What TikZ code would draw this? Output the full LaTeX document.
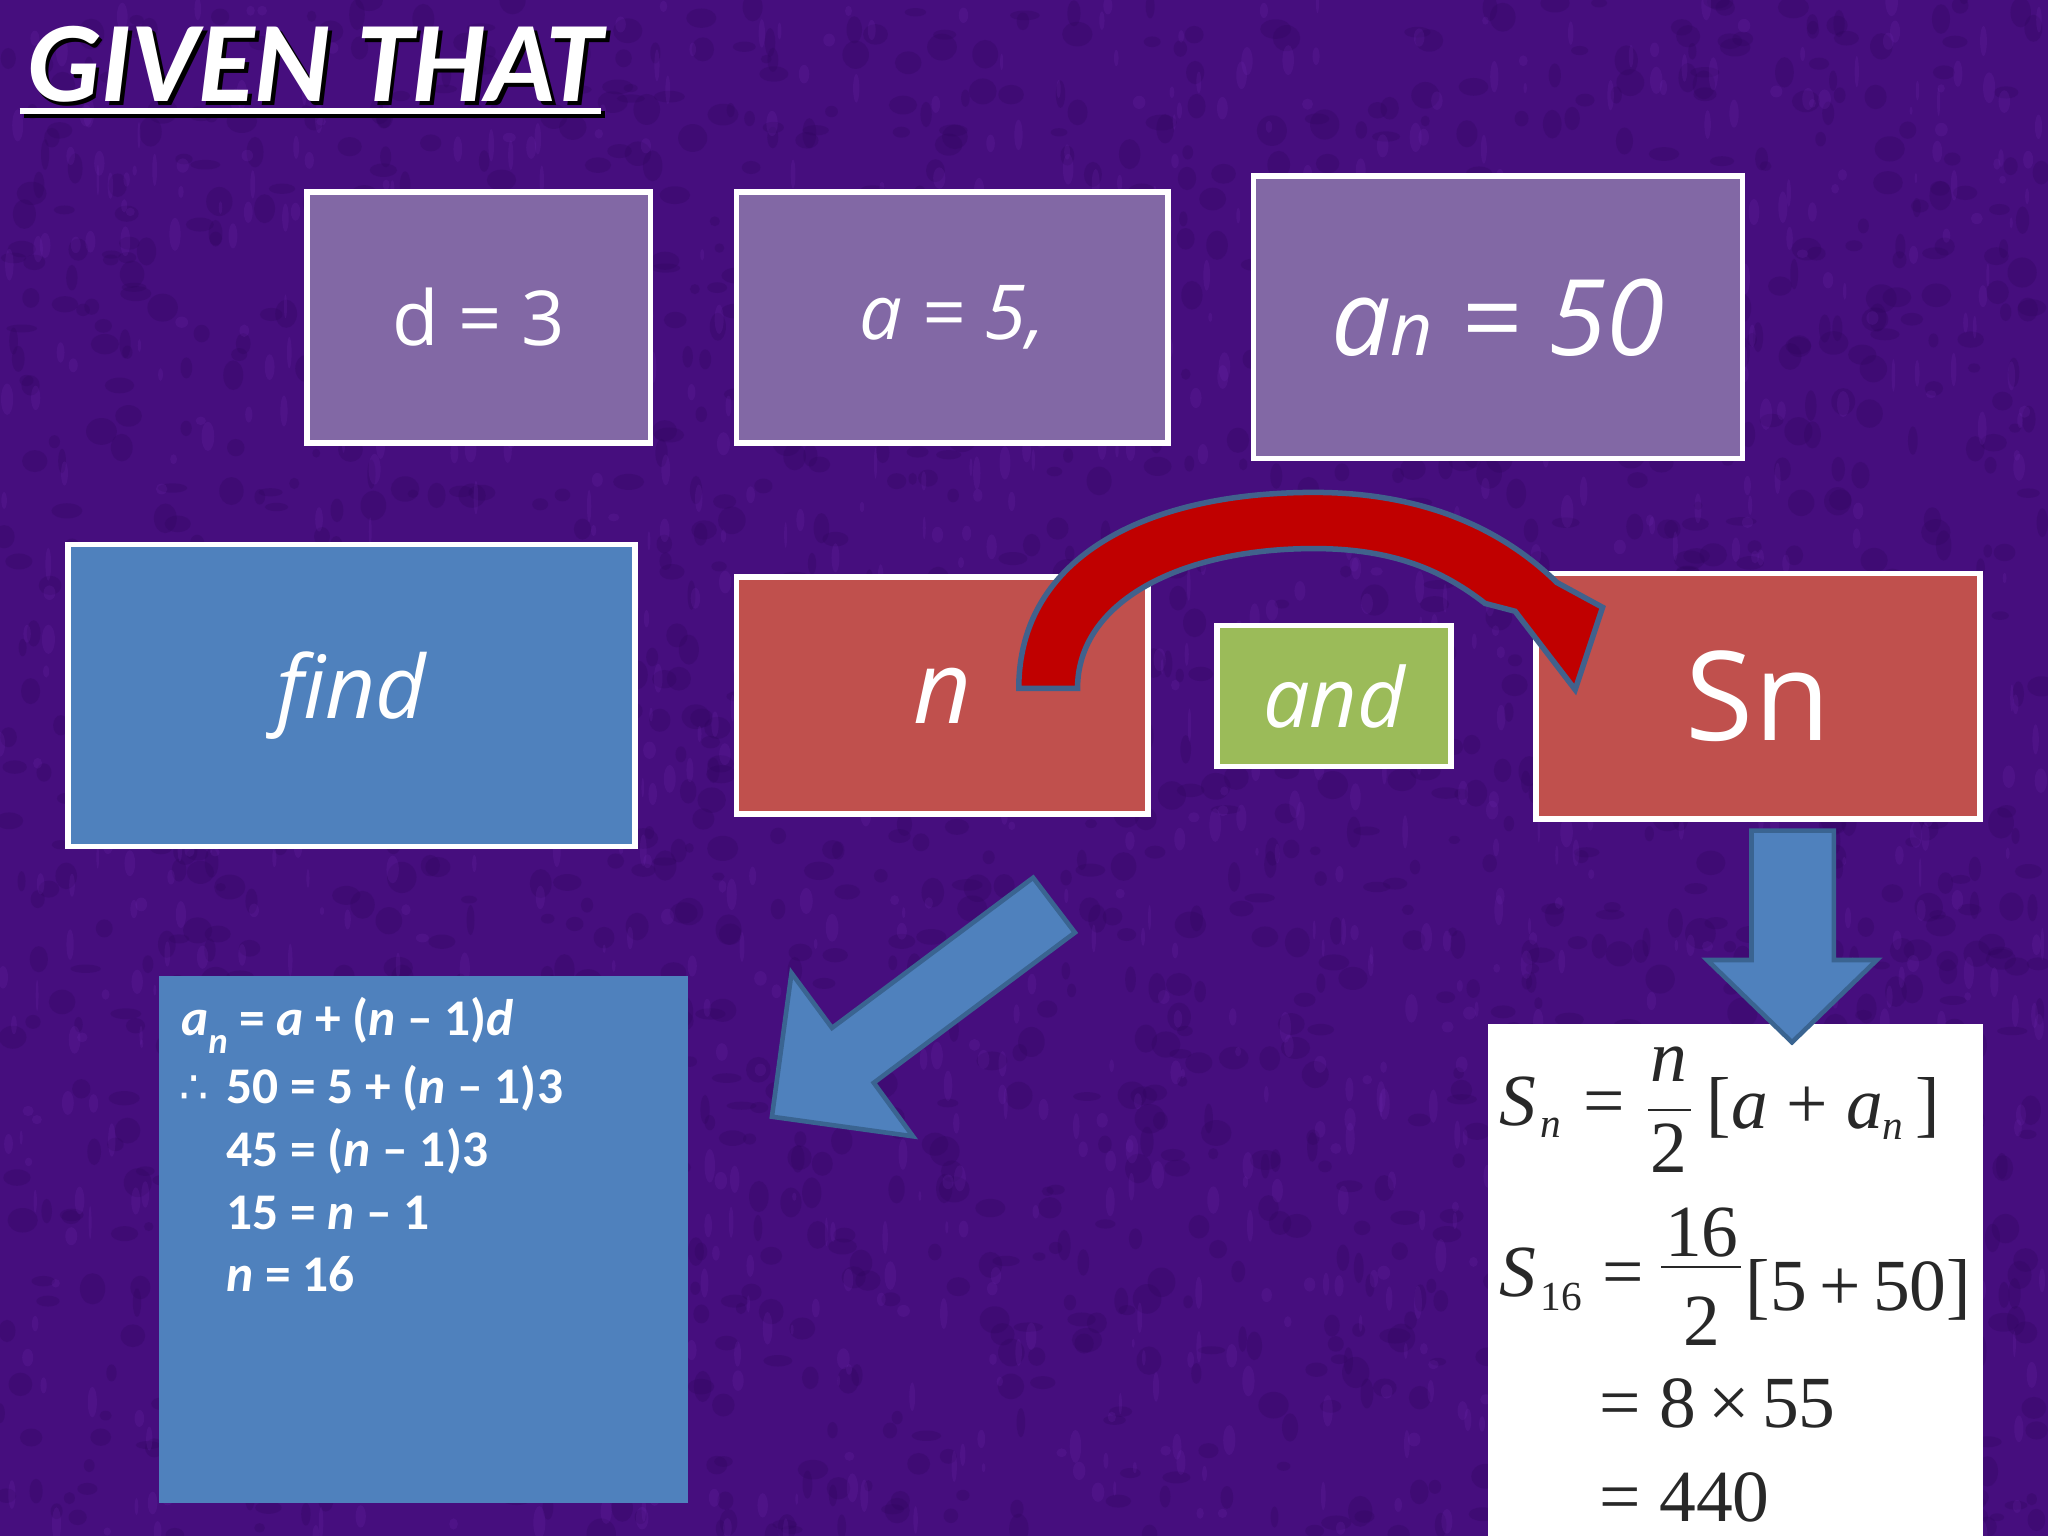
\documentclass[tikz,border=0pt]{standalone}
\usepackage{fontspec}
\setmainfont{Carlito}
\newfontfamily\boxfont{Open Sans}
\newfontfamily\symfont{DejaVu Sans}
\newfontfamily\mtfont{Liberation Serif}
\definecolor{bgpurple}{RGB}{70,14,126}
\definecolor{bgdark}{RGB}{45,5,90}
\definecolor{bglight}{RGB}{110,40,175}
\definecolor{boxpurple}{RGB}{130,104,165}
\definecolor{boxblue}{RGB}{79,129,189}
\definecolor{boxred}{RGB}{192,80,77}
\definecolor{boxgreen}{RGB}{155,187,89}
\definecolor{arrowline}{RGB}{58,100,145}
\definecolor{curvered}{RGB}{192,0,0}
\definecolor{curveline}{RGB}{65,97,140}
\definecolor{mathgray}{RGB}{40,40,40}
\begin{document}
\begin{tikzpicture}[x=0.01cm,y=-0.01cm,
  gbox/.style={draw=white, line width=1.2pt, inner sep=0pt, text=white},
  soltxt/.style={font=\bfseries\fontsize{11.2}{13}\selectfont, text=white, inner sep=0pt, anchor=base west},
  mt/.style={font=\mtfont\fontsize{16}{16}\selectfont, text=mathgray, inner sep=0pt, anchor=base west},
  mtc/.style={font=\mtfont\fontsize{16}{16}\selectfont, text=mathgray, inner sep=0pt, anchor=base},
  mts/.style={font=\mtfont\fontsize{9}{9}\selectfont, text=mathgray, inner sep=0pt, anchor=base west},
  blockarrow/.style={fill=boxblue, draw=arrowline, line width=1pt, line join=miter}
]
\fill[bgpurple] (0,0) rectangle (1568,1176);
\useasboundingbox (0,0) rectangle (1568,1176);
% background texture
\pgfmathsetseed{4711}
\foreach \i in {1,...,1800}{
  \pgfmathsetmacro{\px}{rnd*1568}
  \pgfmathsetmacro{\py}{rnd*1176}
  \pgfmathsetmacro{\rw}{3+rnd*9}
  \pgfmathsetmacro{\rh}{3+rnd*9}
  \fill[bgdark, opacity=0.25] (\px,\py) ellipse [x radius=\rw, y radius=\rh];
}
\foreach \i in {1,...,1200}{
  \pgfmathsetmacro{\px}{rnd*1568}
  \pgfmathsetmacro{\py}{rnd*1176}
  \pgfmathsetmacro{\rw}{1+rnd*4}
  \pgfmathsetmacro{\rh}{3+rnd*10}
  \fill[bglight, opacity=0.2] (\px,\py) ellipse [x radius=\rw, y radius=\rh];
}

% title
\node[font=\bfseries\itshape\fontsize{25}{25}\selectfont, text=black, inner sep=0pt, anchor=base west] (titleshadow) at (23,81) {GIVEN THAT};
\draw[black, line width=1.5pt] (18,88) -- (463,88);
\node[font=\bfseries\itshape\fontsize{25}{25}\selectfont, text=white, inner sep=0pt, anchor=base west] (title) at (20,78) {GIVEN THAT};
\draw[white, line width=1.5pt] (15,85) -- (460,85);

% given boxes
\node[gbox, fill=boxpurple, minimum width=2.63cm, minimum height=1.92cm, font=\boxfont\fontsize{16.5}{16.5}\selectfont] (d3) at (366.5,243) {d = 3};
\node[gbox, fill=boxpurple, minimum width=3.30cm, minimum height=1.92cm, font=\boxfont\itshape\fontsize{16.5}{16.5}\selectfont] (a5) at (729,243) {a = 5,};
\node[gbox, fill=boxpurple, minimum width=3.74cm, minimum height=2.16cm, font=\boxfont\itshape\fontsize{23}{23}\selectfont] (an) at (1147,243) {a{\fontsize{16}{16}\selectfont n} = 50};

% find row
\node[gbox, fill=boxblue, minimum width=4.34cm, minimum height=2.31cm, font=\boxfont\itshape\fontsize{19}{19}\selectfont] (find) at (269,532.5) {find};
\node[gbox, fill=boxred, minimum width=3.15cm, minimum height=1.81cm, font=\boxfont\itshape\fontsize{22}{22}\selectfont] (nbox) at (721.5,532.5) {n};
\node[gbox, fill=boxgreen, minimum width=1.79cm, minimum height=1.08cm, font=\boxfont\itshape\fontsize{18}{18}\selectfont] (and) at (1021.5,533) {and};
\node[gbox, fill=boxred, minimum width=3.40cm, minimum height=1.88cm, font=\boxfont\fontsize{27}{27}\selectfont] (sn) at (1346,533) {Sn};

% curved arrow from n to Sn
\draw[fill=curvered, draw=curveline, line width=1.2pt, line join=miter]
  (780,527) .. controls (780,425) and (880,377) .. (1006,377)
  .. controls (1090,377) and (1150,405) .. (1192,446)
  -- (1227,465) -- (1206,528) -- (1160,468) -- (1137,462)
  .. controls (1100,433) and (1060,420) .. (1006,420)
  .. controls (905,420) and (825,460) .. (825,527) -- cycle;

% solution box (left)
\node[fill=boxblue, inner sep=0pt, minimum width=4.05cm, minimum height=4.04cm] (sol) at (324.5,949) {};
\node[soltxt] (l1) at (138,793) {\textit{a}\raisebox{-0.35em}{\fontsize{8}{8}\selectfont\textit{n}} = \textit{a} + (\textit{n} – 1)\textit{d}};
\node[soltxt, font=\symfont\fontsize{10}{12}\selectfont] (l2a) at (137,845) {∴};
\node[soltxt] (l2) at (173,845) {50 = 5 + (\textit{n} – 1)3};
\node[soltxt] (l3) at (173,893) {45 = (\textit{n} – 1)3};
\node[soltxt] (l4) at (173,941) {15 = \textit{n} – 1};
\node[soltxt] (l5) at (173,989) {\textit{n} = 16};

% white box (right)
\node[fill=white, inner sep=0pt, minimum width=3.79cm, minimum height=3.96cm] (wb) at (1328.5,982) {};
% line 1
\node[mt] (s1) at (1147,862) {\itshape S};
\node[mts] (s1n) at (1179,871) {\itshape n};
\node[mt] (eq1) at (1212,862) {=};
\node[mtc] (f1n) at (1278,828) {\itshape n};
\node[mtc] (f1d) at (1278,898) {2};
\draw[mathgray, line width=0.5pt] (1262,850) -- (1295,850);
\node[mt] (br1) at (1306,864) {[\textit{a} + \textit{a}\raisebox{-2.5pt}{\fontsize{9}{9}\selectfont\textit{n}}\,]};
% line 2
\node[mt] (s2) at (1147,993) {\itshape S};
\node[mts] (s2n) at (1179,1003) {16};
\node[mt] (eq2) at (1226,993) {=};
\node[mtc] (f2n) at (1303,962) {16};
\node[mtc] (f2d) at (1303,1030) {2};
\draw[mathgray, line width=0.5pt] (1272,970) -- (1333,970);
\node[mt] (br2) at (1336,1003) {[5\,+\,50]};
% line 3, 4
\node[mt] (l3m) at (1224,1093) {= 8\,×\,55};
\node[mt] (l4m) at (1224,1165) {= 440};

% diagonal arrow to solution
\draw[blockarrow] (791,672) -- (823,714) -- (669,829) -- (699,870) -- (591,855) -- (606,745) -- (637,787) -- cycle;
% down arrow from Sn
\draw[blockarrow] (1341,636) -- (1404,636) -- (1404,735) -- (1437,735) -- (1372,798) -- (1307,735) -- (1341,735) -- cycle;
\end{tikzpicture}
\end{document}
